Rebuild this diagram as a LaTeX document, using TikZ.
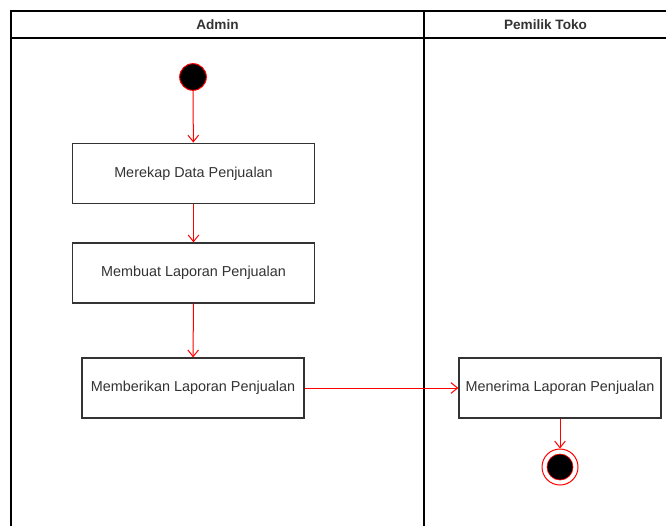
\documentclass[tikz,border=0pt]{standalone}
\usepackage{fontspec}
\setmainfont{Liberation Sans}
\usetikzlibrary{arrows.meta}
\definecolor{flowred}{RGB}{255,0,0}
\definecolor{inkgray}{RGB}{51,51,51}

\begin{document}
\begin{tikzpicture}[x=0.75pt,y=-0.75pt,
    lane/.style={line width=1pt,black},
    lanehead/.style={font=\fontsize{10.2}{12}\selectfont\bfseries,text=inkgray},
    activity/.style={draw=inkgray,line width=0.9pt,fill=white,text=inkgray,
        font=\fontsize{10.8}{13}\selectfont,inner sep=2pt},
    flow/.style={->,flowred,line width=0.75pt,>={Straight Barb[length=5pt,width=8pt]}}]
        \useasboundingbox (0,0) rectangle (666,526);

        % swimlanes
        \draw[lane](11,526)--(11,11)--(666,11);
        \draw[lane](11,38)--(666,38);
        \draw[lane](424,11)--(424,526);
        \node[lanehead] (admin) at (217.5,24.5) {Admin};
        \node[lanehead] (pemilik) at (545.5,24.5) {Pemilik Toko};

        % activities
        \node[circle,fill=black,draw=flowred,line width=0.75pt,minimum size=20pt,inner sep=0pt] (mulai) at (193,77) {};
        \node[activity,minimum width=182pt,minimum height=45.5pt] (rekap) at (193.5,173.5) {Merekap Data Penjualan};
        \node[activity,minimum width=182pt,minimum height=45pt] (buat) at (193.5,273) {Membuat Laporan Penjualan};
        \node[activity,minimum width=166.5pt,minimum height=45pt] (beri) at (193,388) {Memberikan Laporan Penjualan};
        \node[activity,minimum width=151.5pt,minimum height=45pt] (terima) at (560,388) {Menerima Laporan Penjualan};
        \node[circle,draw=flowred,line width=0.75pt,minimum size=27pt,inner sep=0pt] (selesai) at (560,467) {};
        \node[circle,fill=black,draw=flowred,line width=0.5pt,minimum size=19.5pt,inner sep=0pt] (selesaiin) at (560,467) {};

        \draw[flow](mulai)--(rekap);
        \draw[flow](rekap)--(buat);
        \draw[flow](buat)--(beri);
        \draw[flow](beri)--(terima);
        \draw[flow](terima)--(selesai);
    \end{tikzpicture}
\end{document}
